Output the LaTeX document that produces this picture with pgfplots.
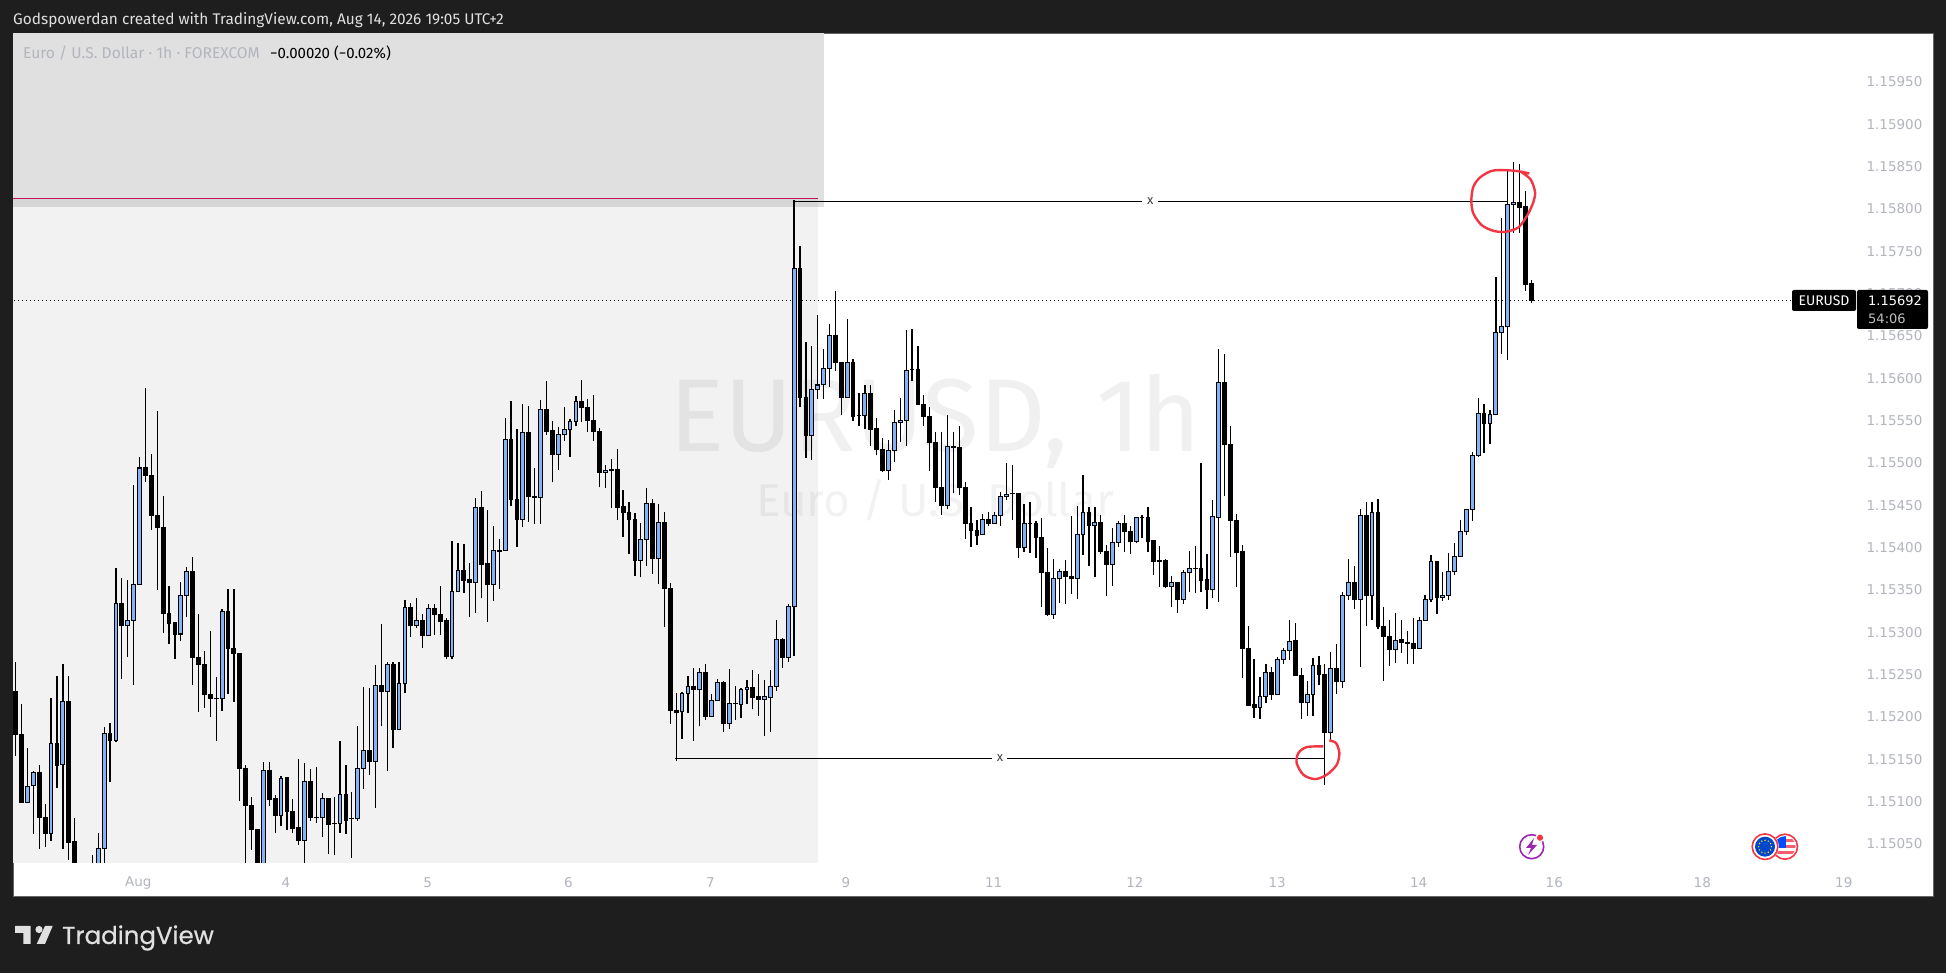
\documentclass[border=0pt]{standalone}
\usepackage{fontspec}
\setmainfont{Fira Sans}
\newfontfamily\tvfont[FakeBold=0.6]{Poppins}
\newfontfamily\tickfont{DejaVu Sans}
\usepackage{pgfplots}
\usepackage{pgfplotstable}
\pgfplotsset{compat=1.18}
\definecolor{frame}{HTML}{1E1E1E}
\definecolor{ticktext}{HTML}{B2B5BE}
\definecolor{upblue}{HTML}{82B4F5}
\definecolor{inkred}{HTML}{F23645}
\definecolor{linepink}{HTML}{C2185B}
\definecolor{boltpurple}{HTML}{9C27B0}

% EURUSD 1h: index open high low close
\pgfplotstableread{
i o h l c
0 1.15230 1.15265 1.15154 1.15179
1 1.15179 1.15215 1.15099 1.15099
2 1.15099 1.15164 1.15099 1.15118
3 1.15119 1.15136 1.15062 1.15135
4 1.15135 1.15143 1.15044 1.15081
5 1.15081 1.15097 1.15047 1.15063
6 1.15063 1.15222 1.15054 1.15169
7 1.15169 1.15249 1.15116 1.15143
8 1.15144 1.15262 1.15044 1.15218
9 1.15218 1.15249 1.15031 1.15052
10 1.15053 1.15081 1.15005 1.15015
11 1.15015 1.15025 1.14990 1.15005
12 1.15000 1.15025 1.14990 1.15010
13 1.15010 1.15037 1.15000 1.15005
14 1.15005 1.15063 1.15000 1.15045
15 1.15045 1.15188 1.15020 1.15181
16 1.15181 1.15193 1.15123 1.15172
17 1.15172 1.15376 1.15170 1.15334
18 1.15334 1.15364 1.15245 1.15308
19 1.15308 1.15362 1.15271 1.15314
20 1.15314 1.15474 1.15238 1.15357
21 1.15357 1.15507 1.15357 1.15494
22 1.15494 1.15589 1.15478 1.15485
23 1.15485 1.15510 1.15421 1.15438
24 1.15438 1.15561 1.15350 1.15424
25 1.15424 1.15461 1.15299 1.15322
26 1.15322 1.15355 1.15286 1.15310
27 1.15311 1.15312 1.15269 1.15298
28 1.15298 1.15360 1.15290 1.15343
29 1.15343 1.15377 1.15318 1.15372
30 1.15372 1.15389 1.15238 1.15270
31 1.15270 1.15322 1.15206 1.15262
32 1.15262 1.15278 1.15211 1.15226
33 1.15227 1.15302 1.15200 1.15222
34 1.15222 1.15247 1.15172 1.15222
35 1.15222 1.15327 1.15207 1.15324
36 1.15324 1.15351 1.15227 1.15281
37 1.15281 1.15351 1.15218 1.15275
38 1.15275 1.15275 1.15101 1.15139
39 1.15139 1.15143 1.15020 1.15095
40 1.15095 1.15105 1.15043 1.15067
41 1.15067 1.15068 1.15010 1.15015
42 1.15015 1.15147 1.15010 1.15137
43 1.15137 1.15147 1.15095 1.15103
44 1.15104 1.15108 1.15063 1.15084
45 1.15084 1.15130 1.15071 1.15127
46 1.15128 1.15129 1.15067 1.15088
47 1.15089 1.15103 1.15063 1.15068
48 1.15069 1.15150 1.15049 1.15054
49 1.15054 1.15146 1.15020 1.15124
50 1.15124 1.15139 1.15077 1.15081
51 1.15081 1.15141 1.15075 1.15081
52 1.15081 1.15110 1.15058 1.15104
53 1.15104 1.15104 1.15038 1.15073
54 1.15074 1.15105 1.15037 1.15074
55 1.15074 1.15172 1.15063 1.15108
56 1.15108 1.15143 1.15062 1.15078
57 1.15080 1.15112 1.15034 1.15080
58 1.15080 1.15189 1.15077 1.15139
59 1.15139 1.15235 1.15115 1.15160
60 1.15160 1.15234 1.15132 1.15148
61 1.15148 1.15261 1.15093 1.15237
62 1.15237 1.15310 1.15189 1.15230
63 1.15230 1.15265 1.15136 1.15262
64 1.15262 1.15265 1.15163 1.15185
65 1.15185 1.15265 1.15185 1.15240
66 1.15240 1.15338 1.15228 1.15329
67 1.15329 1.15335 1.15295 1.15308
68 1.15308 1.15341 1.15305 1.15314
69 1.15314 1.15322 1.15282 1.15296
70 1.15296 1.15333 1.15296 1.15328
71 1.15328 1.15333 1.15297 1.15321
72 1.15321 1.15355 1.15297 1.15313
73 1.15314 1.15317 1.15269 1.15271
74 1.15271 1.15408 1.15269 1.15348
75 1.15348 1.15405 1.15348 1.15373
76 1.15373 1.15404 1.15347 1.15361
77 1.15362 1.15382 1.15318 1.15359
78 1.15359 1.15459 1.15323 1.15447
79 1.15447 1.15467 1.15340 1.15380
80 1.15381 1.15445 1.15312 1.15356
81 1.15356 1.15426 1.15337 1.15397
82 1.15397 1.15410 1.15351 1.15395
83 1.15397 1.15553 1.15397 1.15528
84 1.15528 1.15573 1.15449 1.15457
85 1.15457 1.15540 1.15401 1.15433
86 1.15433 1.15570 1.15424 1.15536
87 1.15536 1.15567 1.15430 1.15460
88 1.15460 1.15494 1.15428 1.15459
89 1.15459 1.15574 1.15428 1.15563
90 1.15563 1.15597 1.15533 1.15537
91 1.15538 1.15550 1.15477 1.15510
92 1.15510 1.15542 1.15492 1.15533
93 1.15533 1.15566 1.15526 1.15539
94 1.15539 1.15552 1.15507 1.15549
95 1.15549 1.15579 1.15543 1.15572
96 1.15572 1.15598 1.15548 1.15565
97 1.15566 1.15576 1.15537 1.15550
98 1.15550 1.15580 1.15526 1.15537
99 1.15537 1.15541 1.15471 1.15489
100 1.15489 1.15498 1.15470 1.15491
101 1.15492 1.15505 1.15447 1.15491
102 1.15492 1.15516 1.15433 1.15447
103 1.15448 1.15468 1.15413 1.15441
104 1.15442 1.15454 1.15392 1.15433
105 1.15433 1.15441 1.15366 1.15385
106 1.15385 1.15429 1.15365 1.15410
107 1.15410 1.15470 1.15378 1.15452
108 1.15452 1.15457 1.15369 1.15387
109 1.15387 1.15452 1.15357 1.15430
110 1.15430 1.15442 1.15306 1.15352
111 1.15352 1.15358 1.15192 1.15208
112 1.15208 1.15228 1.15148 1.15205
113 1.15206 1.15230 1.15174 1.15228
114 1.15228 1.15249 1.15205 1.15236
115 1.15236 1.15258 1.15172 1.15232
116 1.15232 1.15258 1.15189 1.15252
117 1.15252 1.15262 1.15196 1.15201
118 1.15201 1.15227 1.15201 1.15219
119 1.15219 1.15245 1.15219 1.15241
120 1.15241 1.15243 1.15182 1.15192
121 1.15192 1.15257 1.15186 1.15216
122 1.15216 1.15237 1.15197 1.15216
123 1.15215 1.15234 1.15199 1.15233
124 1.15233 1.15244 1.15215 1.15235
125 1.15235 1.15255 1.15209 1.15223
126 1.15224 1.15251 1.15201 1.15221
127 1.15221 1.15244 1.15178 1.15224
128 1.15223 1.15255 1.15182 1.15236
129 1.15236 1.15314 1.15231 1.15292
130 1.15292 1.15293 1.15258 1.15270
131 1.15270 1.15333 1.15265 1.15331
132 1.15331 1.15810 1.15272 1.15730
133 1.15730 1.15756 1.15566 1.15577
134 1.15577 1.15643 1.15506 1.15532
135 1.15532 1.15638 1.15503 1.15587
136 1.15587 1.15675 1.15576 1.15592
137 1.15592 1.15635 1.15576 1.15612
138 1.15612 1.15664 1.15590 1.15651
139 1.15651 1.15703 1.15609 1.15618
140 1.15618 1.15619 1.15557 1.15577
141 1.15577 1.15670 1.15577 1.15618
142 1.15618 1.15623 1.15550 1.15555
143 1.15556 1.15583 1.15544 1.15556
144 1.15556 1.15592 1.15540 1.15582
145 1.15582 1.15592 1.15520 1.15540
146 1.15541 1.15553 1.15509 1.15516
147 1.15516 1.15529 1.15489 1.15491
148 1.15491 1.15527 1.15480 1.15515
149 1.15515 1.15563 1.15501 1.15548
150 1.15548 1.15577 1.15525 1.15550
151 1.15550 1.15657 1.15520 1.15609
152 1.15610 1.15658 1.15597 1.15610
153 1.15610 1.15638 1.15569 1.15569
154 1.15569 1.15580 1.15544 1.15555
155 1.15555 1.15566 1.15491 1.15524
156 1.15524 1.15536 1.15454 1.15471
157 1.15471 1.15537 1.15439 1.15450
158 1.15450 1.15557 1.15445 1.15519
159 1.15519 1.15536 1.15464 1.15518
160 1.15518 1.15544 1.15462 1.15471
161 1.15471 1.15477 1.15410 1.15428
162 1.15429 1.15448 1.15401 1.15420
163 1.15420 1.15433 1.15403 1.15414
164 1.15415 1.15440 1.15415 1.15433
165 1.15433 1.15442 1.15425 1.15428
166 1.15428 1.15442 1.15428 1.15438
167 1.15438 1.15466 1.15425 1.15460
168 1.15460 1.15500 1.15456 1.15463
169 1.15464 1.15498 1.15433 1.15464
170 1.15464 1.15464 1.15388 1.15400
171 1.15400 1.15452 1.15395 1.15429
172 1.15429 1.15454 1.15394 1.15429
173 1.15428 1.15432 1.15388 1.15412
174 1.15412 1.15435 1.15330 1.15371
175 1.15371 1.15400 1.15319 1.15321
176 1.15321 1.15387 1.15316 1.15363
177 1.15363 1.15375 1.15335 1.15372
178 1.15372 1.15385 1.15334 1.15366
179 1.15366 1.15437 1.15345 1.15363
180 1.15363 1.15449 1.15339 1.15415
181 1.15415 1.15486 1.15391 1.15442
182 1.15442 1.15448 1.15378 1.15426
183 1.15426 1.15448 1.15365 1.15430
184 1.15430 1.15439 1.15393 1.15395
185 1.15396 1.15403 1.15343 1.15380
186 1.15380 1.15423 1.15355 1.15406
187 1.15406 1.15431 1.15401 1.15429
188 1.15429 1.15438 1.15395 1.15419
189 1.15419 1.15425 1.15393 1.15407
190 1.15407 1.15435 1.15405 1.15435
191 1.15436 1.15439 1.15411 1.15436
192 1.15436 1.15448 1.15395 1.15407
193 1.15408 1.15409 1.15368 1.15384
194 1.15385 1.15402 1.15354 1.15384
195 1.15385 1.15386 1.15352 1.15354
196 1.15354 1.15366 1.15330 1.15359
197 1.15359 1.15360 1.15323 1.15339
198 1.15339 1.15374 1.15334 1.15371
199 1.15371 1.15396 1.15348 1.15375
200 1.15375 1.15402 1.15346 1.15375
201 1.15375 1.15500 1.15348 1.15361
202 1.15362 1.15393 1.15327 1.15350
203 1.15350 1.15456 1.15341 1.15437
204 1.15436 1.15634 1.15336 1.15595
205 1.15595 1.15629 1.15461 1.15522
206 1.15522 1.15544 1.15389 1.15432
207 1.15432 1.15440 1.15354 1.15394
208 1.15395 1.15403 1.15246 1.15281
209 1.15281 1.15308 1.15214 1.15214
210 1.15215 1.15269 1.15199 1.15211
211 1.15211 1.15247 1.15198 1.15224
212 1.15224 1.15262 1.15216 1.15253
213 1.15253 1.15259 1.15220 1.15227
214 1.15227 1.15271 1.15227 1.15268
215 1.15268 1.15281 1.15263 1.15278
216 1.15278 1.15315 1.15267 1.15289
217 1.15290 1.15311 1.15249 1.15249
218 1.15249 1.15258 1.15198 1.15217
219 1.15217 1.15243 1.15201 1.15227
220 1.15227 1.15270 1.15201 1.15261
221 1.15261 1.15272 1.15238 1.15250
222 1.15250 1.15262 1.15120 1.15182
223 1.15182 1.15277 1.15170 1.15257
224 1.15257 1.15286 1.15227 1.15242
225 1.15242 1.15348 1.15234 1.15344
226 1.15344 1.15386 1.15338 1.15359
227 1.15359 1.15378 1.15327 1.15339
228 1.15339 1.15446 1.15259 1.15438
229 1.15438 1.15454 1.15307 1.15343
230 1.15343 1.15454 1.15315 1.15441
231 1.15441 1.15457 1.15304 1.15307
232 1.15307 1.15330 1.15243 1.15295
233 1.15295 1.15315 1.15260 1.15280
234 1.15280 1.15323 1.15264 1.15290
235 1.15291 1.15315 1.15276 1.15288
236 1.15288 1.15301 1.15263 1.15287
237 1.15287 1.15317 1.15263 1.15281
238 1.15281 1.15318 1.15281 1.15314
239 1.15314 1.15344 1.15314 1.15339
240 1.15339 1.15391 1.15336 1.15384
241 1.15384 1.15384 1.15322 1.15341
242 1.15341 1.15371 1.15337 1.15344
243 1.15344 1.15394 1.15338 1.15372
244 1.15372 1.15405 1.15368 1.15389
245 1.15389 1.15433 1.15389 1.15419
246 1.15419 1.15446 1.15415 1.15445
247 1.15445 1.15513 1.15432 1.15509
248 1.15509 1.15577 1.15507 1.15558
249 1.15558 1.15570 1.15512 1.15547
250 1.15547 1.15563 1.15522 1.15557
251 1.15557 1.15720 1.15556 1.15654
252 1.15654 1.15789 1.15629 1.15661
253 1.15661 1.15846 1.15621 1.15805
254 1.15805 1.15855 1.15772 1.15807
255 1.15807 1.15853 1.15772 1.15802
256 1.15803 1.15821 1.15703 1.15711
257 1.15712 1.15716 1.15689 1.15692
}\candles

\begin{document}
\begin{tikzpicture}
\path[use as bounding box] (0,0) rectangle (1946pt,973pt);
\fill[frame] (0,0) rectangle (1946pt,973pt);
\draw[fill=white,draw=black!60,line width=1pt] (13pt,76pt) rectangle (1933pt,939.5pt);

\begin{axis}[
  at={(13pt,110.3pt)}, anchor=south west,
  scale only axis, width=1850pt, height=829.2pt,
  xmin=-0.458, xmax=313.26, ymin=1.15028, ymax=1.16007,
  axis line style={draw=none}, major tick length=0pt,
  ytick pos=right, yticklabel pos=right,
  ytick={1.1505,1.151,1.1515,1.152,1.1525,1.153,1.1535,1.154,1.1545,1.155,1.1555,1.156,1.1565,1.157,1.1575,1.158,1.1585,1.159,1.1595},
  yticklabels={1.15050,1.15100,1.15150,1.15200,1.15250,1.15300,1.15350,1.15400,1.15450,1.15500,1.15550,1.15600,1.15650,1.15700,1.15750,1.15800,1.15850,1.15900,1.15950},
  xtick={20.8,45.84,69.87,93.74,117.82,140.8,165.83,189.8,213.9,237.9,260.9,286,310},
  xticklabels={Aug,4,5,6,7,9,11,12,13,14,16,18,19},
  tick label style={text=ticktext,font=\tickfont\fontsize{13.5}{16}\selectfont},
  yticklabel style={anchor=west,xshift=0pt},
  xticklabel style={anchor=center,yshift=-20pt},
]
% shaded ranges and the lines behind the candles
\addplot[fill=black!12,draw=none,forget plot] coordinates {(-1,1.15802) (137.07,1.15802) (137.07,1.1601) (-1,1.1601)} --cycle;
\addplot[fill=black!5,draw=none,forget plot] coordinates {(-1,1.15) (136,1.15) (136,1.15812) (-1,1.15812)} --cycle;
\addplot[fill=black!16,draw=none,forget plot] coordinates {(-1,1.15802) (136,1.15802) (136,1.15812) (-1,1.15812)} --cycle;
\addplot[linepink,line width=1.2pt,forget plot] coordinates {(-1,1.15812) (136,1.15812)};

\node[anchor=base,text=black,text opacity=0.06,font=\fontsize{103.5}{110}\selectfont] at (axis cs:155.97,1.15513) {EURUSD, 1h};
\node[anchor=base,text=black,text opacity=0.05,font=\fontsize{46}{50}\selectfont] at (axis cs:155.9,1.15437) {Euro / U.S. Dollar};

\addplot[black,line width=0.8pt,dash pattern=on 1pt off 3pt,forget plot] coordinates {(-1,1.15692) (301.2,1.15692)};

% wicks
\addplot[draw=none,mark=none,forget plot,
  error bars/.cd,y dir=plus,y explicit,error mark=none,
  error bar style={draw=black,line width=1.25pt}]
  table[x=i,y=l,y error plus expr=\thisrow{h}-\thisrow{l}] {\candles};
% bodies, outline
\addplot[draw=none,mark=none,forget plot,
  error bars/.cd,y dir=plus,y explicit,error mark=none,
  error bar style={draw=black,line width=4.8pt}]
  table[x=i,y expr={min(\thisrow{o},\thisrow{c})-0.000006},y error plus expr={abs(\thisrow{c}-\thisrow{o})+0.000012}] {\candles};
% bodies, fill of the rising ones
\addplot[draw=none,mark=none,forget plot,unbounded coords=discard,
  error bars/.cd,y dir=plus,y explicit,error mark=none,
  error bar style={draw=upblue,line width=2.8pt}]
  table[x=i,y expr={\thisrow{c}-\thisrow{o}>0.000018 ? \thisrow{o}+0.000006 : nan},y error plus expr={\thisrow{c}-\thisrow{o}-0.000012}] {\candles};

% the two swept levels
\addplot[black,line width=1.2pt,forget plot] coordinates {(131.87,1.158086) (191.0,1.158086)};
\addplot[black,line width=1.2pt,forget plot] coordinates {(193.7,1.158086) (252.9,1.158086)};
\node[text=black!75,font=\fontsize{13}{15}\selectfont,inner sep=0pt] at (axis cs:192.4,1.158086) {x};
\addplot[black,line width=1.2pt,forget plot] coordinates {(111.85,1.15151) (165.55,1.15151)};
\addplot[black,line width=1.2pt,forget plot] coordinates {(168.1,1.15151) (221.98,1.15151)};
\node[text=black!75,font=\fontsize{13}{15}\selectfont,inner sep=0pt] at (axis cs:166.9,1.15151) {x};

% hand drawn circles
\addplot[inkred,line width=2.4pt,smooth,forget plot] coordinates {(256.68,1.158417) (254.81,1.158444) (252.55,1.158456) (250.29,1.158448) (248.31,1.15837) (247.18,1.15826) (246.84,1.1581) (247.18,1.157945) (248.6,1.157807) (250.6,1.15774) (252.55,1.157728) (254.8,1.15778) (256.34,1.157925) (257.36,1.15808) (257.64,1.1582) (256.9,1.158346) (255.4,1.15843)};
\addplot[inkred,line width=2.4pt,smooth,forget plot] coordinates {(222.76,1.151724) (223.9,1.151692) (224.46,1.151574) (224.01,1.151436) (222.31,1.151318) (220.33,1.151267) (218.36,1.151318) (217.22,1.151456) (217.51,1.151574) (218.92,1.151645) (221.75,1.151653)};
\end{axis}

\begin{scope}[x=1pt,y=-1pt,shift={(0,973pt)}]
\node[anchor=base west,inner sep=0pt,text=white!88!black,font=\fontsize{15.4}{17}\selectfont] at (13,24.5) {Godspowerdan created with TradingView.com, Aug 14, 2026 19:05 UTC+2};
\node[anchor=base west,inner sep=0pt,text=ticktext,font=\fontsize{15.6}{17}\selectfont] at (23,58.5) {Euro / U.S. Dollar · 1h · FOREXCOM};
\node[anchor=base west,inner sep=0pt,text=black,font=\fontsize{15}{17}\selectfont] at (270,58.5) {−0.00020 (−0.02\%)};

% last price tags
\fill[black,rounded corners=2pt] (1792,290) rectangle (1856,311);
\fill[black,rounded corners=2pt] (1857,290) rectangle (1928,329);
\node[text=white,font=\fontsize{14}{16}\selectfont,inner sep=0pt] at (1824,300.5) {EURUSD};
\node[text=white,font=\tickfont\fontsize{13}{16}\selectfont,inner sep=0pt,anchor=west] at (1868,300.5) {1.15692};
\node[text=white!75!black,font=\tickfont\fontsize{13}{16}\selectfont,inner sep=0pt,anchor=west] at (1868,319) {54:06};

% event icons
\draw[boltpurple,line width=1.6pt] (1531.7,846.7) circle (12);
\fill[white] (1540,837.7) circle (4.6);
\fill[inkred] (1540,837.7) circle (3.1);
\fill[boltpurple] (1534,838) -- (1526,848) -- (1531,848) -- (1528,855) -- (1537,845) -- (1532,845) -- cycle;
\begin{scope}
\clip (1785,846.7) circle (10.5);
\fill[white] (1775,836) rectangle (1796,858);
\fill[inkred!80] (1775,839) rectangle (1796,842);
\fill[inkred!80] (1775,845) rectangle (1796,848);
\fill[inkred!80] (1775,851) rectangle (1796,854);
\fill[blue!70!cyan] (1775,836) rectangle (1786,848);
\end{scope}
\draw[inkred,line width=1.6pt] (1785,846.7) circle (12.5);
\fill[white] (1765,846.7) circle (13.8);
\draw[inkred,line width=1.6pt] (1765,846.7) circle (12.8);
\fill[blue!65!cyan!80!black] (1765,846.7) circle (10);
\foreach \a in {0,30,...,330} \fill[yellow!85!orange] ({1765+6.4*cos(\a)},{846.7+6.4*sin(\a)}) circle (0.8);

% footer logo
\fill[white!88!black] (15,926) -- (30.7,926) -- (30.7,944) -- (23.3,944) -- (23.3,933) -- (15,933) -- cycle;
\fill[white!88!black] (39,929.5) circle (3.6);
\fill[white!88!black] (36.7,944) -- (45,926) -- (52.7,926) -- (45,944) -- cycle;
\node[anchor=base west,inner sep=0pt,text=white!88!black,font=\tvfont\fontsize{24.5}{28}\selectfont] at (62,944) {TradingView};
\end{scope}
\end{tikzpicture}
\end{document}
